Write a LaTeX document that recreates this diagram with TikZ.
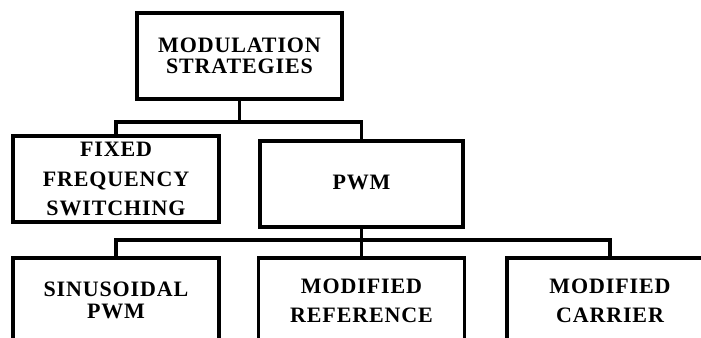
\documentclass[tikz,border=0pt]{standalone}
\usepackage{fontspec}
\newfontfamily\boxfont[LetterSpace=4]{Liberation Serif}
\begin{document}
\begin{tikzpicture}[x=0.75pt,y=-0.75pt,
  box/.style={draw, line width=2.8pt, inner sep=0pt, outer sep=0pt,
    minimum width=154.5pt, minimum height=64.5pt, align=center},
  bf/.style={font=\boxfont\bfseries\fontsize{16.5pt}{#1}\selectfont},
  conn/.style={line width=2.6pt}]
\useasboundingbox (0,0) rectangle (701,338);
\clip (0,0) rectangle (701,338);
\node[box, bf=15.75pt, minimum width=153.75pt] (top) at (239.5,56) {MODULATION\\STRATEGIES};
\node[box, bf=22pt] (fixed) at (116,179) {FIXED\\FREQUENCY\\SWITCHING};
\node[box, bf=16pt, minimum width=152.25pt] (pwm) at (361.5,184) {\raisebox{3pt}{PWM}};
\node[box, bf=16.5pt, minimum height=63.75pt] (sin) at (116,300.5) {SINUSOIDAL\\PWM};
\node[box, bf=21.75pt, minimum height=63.75pt] (modref) at (361.5,300.5) {MODIFIED\\REFERENCE};
\node[box, bf=21.75pt, minimum height=63.75pt] (carrier) at (610,300.5) {MODIFIED\\CARRIER};
\coordinate (j1) at (239.5,122);
\coordinate (j2) at (361.5,240);
\draw[conn] (top.south) -- (j1);
\draw[conn] (fixed.north) |- (j1) -| (pwm.north);
\draw[conn] (pwm.south) -- (j2);
\draw[conn] (sin.north) |- (j2) -| (carrier.north);
\draw[conn] (j2) -- (modref.north);
\end{tikzpicture}
\end{document}
